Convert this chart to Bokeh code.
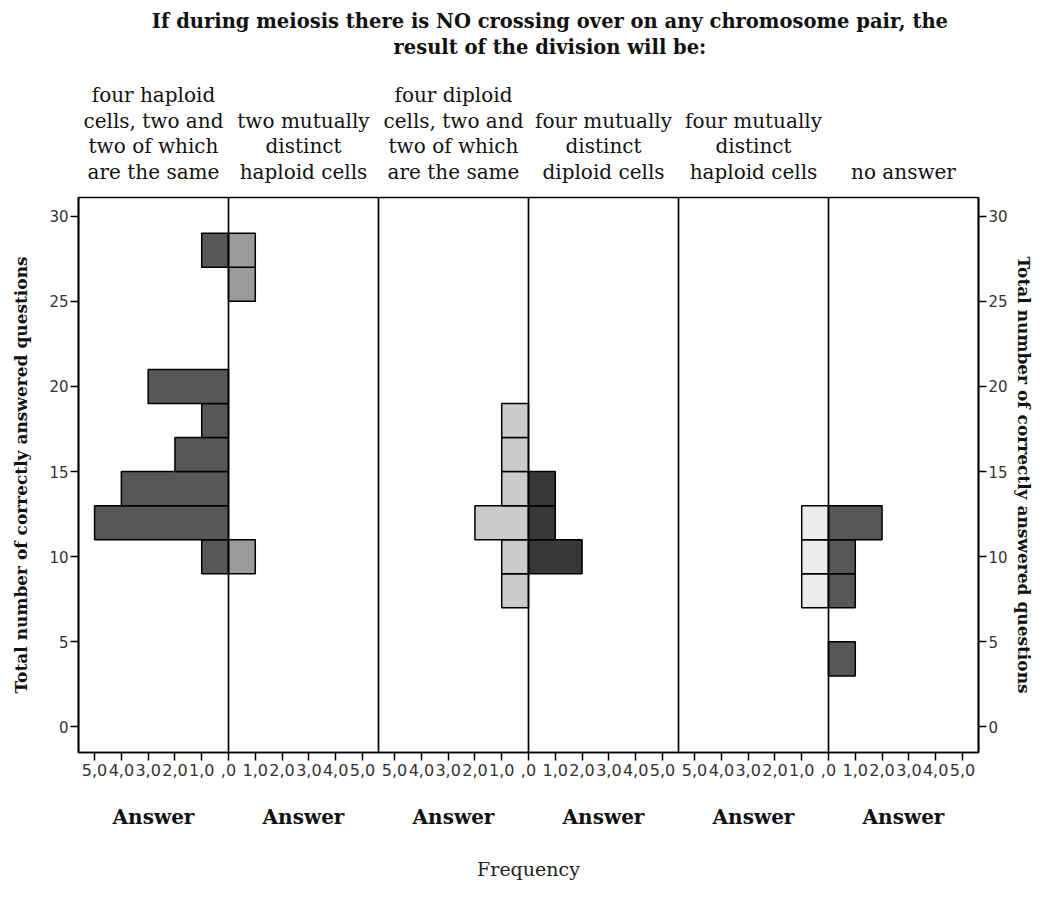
from bokeh.plotting import figure
from bokeh.models import Range1d, LinearAxis, FixedTicker, Span
from bokeh.embed import file_html
from bokeh.resources import INLINE

# ---------------- data ----------------
title_text = ("If during meiosis there is NO crossing over on any chromosome pair, the\n"
              "result of the division will be:")
categories = [
    "four haploid\ncells, two and\ntwo of which\nare the same",
    "two mutually\ndistinct\nhaploid cells",
    "four diploid\ncells, two and\ntwo of which\nare the same",
    "four mutually\ndistinct\ndiploid cells",
    "four mutually\ndistinct\nhaploid cells",
    "no answer",
]
bin_centers = [4, 6, 8, 10, 12, 14, 16, 18, 20, 22, 24, 26, 28]
bin_width = 2
counts_four_haploid_same = [0, 0, 0, 1, 5, 4, 2, 1, 3, 0, 0, 0, 1]
counts_two_distinct_haploid = [0, 0, 0, 1, 0, 0, 0, 0, 0, 0, 0, 1, 1]
counts_four_diploid_same = [0, 0, 1, 1, 2, 1, 1, 1, 0, 0, 0, 0, 0]
counts_four_distinct_diploid = [0, 0, 0, 2, 1, 1, 0, 0, 0, 0, 0, 0, 0]
counts_four_distinct_haploid = [0, 0, 1, 1, 1, 0, 0, 0, 0, 0, 0, 0, 0]
counts_no_answer = [1, 0, 1, 1, 2, 0, 0, 0, 0, 0, 0, 0, 0]
series = [counts_four_haploid_same, counts_two_distinct_haploid,
          counts_four_diploid_same, counts_four_distinct_diploid,
          counts_four_distinct_haploid, counts_no_answer]
colors = ["#575757", "#9b9b9b", "#cbcbcb", "#373737", "#ececec", "#575757"]
freq_ticks = [0, 1, 2, 3, 4, 5]
freq_tick_labels = [",0", "1,0", "2,0", "3,0", "4,0", "5,0"]
y_ticks = [0, 5, 10, 15, 20, 25, 30]
y_label = "Total number of correctly answered questions"
x_group_label = "Answer"
x_label = "Frequency"

# ---------------- layout constants ----------------
U = 10           # data units per frequency unit
HALF = 56        # width of each half panel (5.6 frequency units)
TITLE_X = 176    # horizontal anchor of the title (data units)

p = figure(width=1036, height=883, output_backend="svg", toolbar_location=None,
           x_range=Range1d(0, 6 * HALF), y_range=Range1d(-1.5, 31.1),
           min_border_left=78, min_border_right=51, min_border_top=197,
           min_border_bottom=131, title=None)
p.grid.visible = False
p.outline_line_color = "black"
p.outline_line_width = 1.7
p.background_fill_color = "white"
p.border_fill_color = "white"

# bars
for k, cnts in enumerate(series):
    zero = (k + 1) * HALF if k % 2 == 0 else k * HALF
    sign = -1 if k % 2 == 0 else 1
    lefts, rights, tops, bottoms = [], [], [], []
    for c, n in zip(bin_centers, cnts):
        if n <= 0:
            continue
        end = zero + sign * n * U
        lefts.append(min(zero, end))
        rights.append(max(zero, end))
        bottoms.append(c - bin_width / 2)
        tops.append(c + bin_width / 2)
    p.quad(left=lefts, right=rights, top=tops, bottom=bottoms,
           fill_color=colors[k], line_color="black", line_width=1.5)

# vertical lines: panel centres and separators
for j in range(1, 6):
    p.add_layout(Span(location=j * HALF, dimension="height",
                      line_color="black", line_width=1.7))

# x axis ticks (mirrored frequency scales)
ticks, overrides = [], {}
for pnl in range(3):
    c = (2 * pnl + 1) * HALF
    for v, lab in zip(freq_ticks, freq_tick_labels):
        for s in ((-1, 1) if v else (1,)):
            pos = c + s * v * U
            ticks.append(pos)
            overrides[pos] = lab
ax = p.xaxis[0]
ax.ticker = FixedTicker(ticks=sorted(ticks))
ax.major_label_overrides = overrides
ax.minor_tick_line_color = None
ax.major_tick_out = 8
ax.major_tick_in = 0
ax.major_tick_line_width = 1.5
ax.axis_line_width = 1.7
ax.major_label_standoff = 3
ax.major_label_text_font = "DejaVu Sans"
ax.major_label_text_font_size = "16px"
ax.major_label_text_color = "#333333"

half_centres = [k * HALF + HALF // 2 for k in range(6)]

def text_axis(labels, positions):
    a = LinearAxis(ticker=FixedTicker(ticks=positions),
                   major_label_overrides=dict(zip(positions, labels)))
    a.axis_line_color = None
    a.major_tick_line_color = None
    a.minor_tick_line_color = None
    return a

# "Answer" row + "Frequency" title below
ax2 = text_axis([x_group_label] * 6, half_centres)
ax2.major_label_standoff = 20
ax2.major_label_text_font = "DejaVu Serif"
ax2.major_label_text_font_style = "bold"
ax2.major_label_text_font_size = "20px"
ax2.major_label_text_color = "#111111"
ax2.axis_label = x_label
ax2.axis_label_standoff = 26
ax2.axis_label_text_font = "DejaVu Serif"
ax2.axis_label_text_font_style = "normal"
ax2.axis_label_text_font_size = "19px"
ax2.axis_label_text_color = "#222222"
p.add_layout(ax2, "below")

# category headers above
ax3 = text_axis(categories, half_centres)
ax3.major_label_standoff = 8
ax3.major_label_text_font = "DejaVu Serif"
ax3.major_label_text_font_size = "20px"
ax3.major_label_text_line_height = 1.06
ax3.major_label_text_color = "#111111"
p.add_layout(ax3, "above")

# main title (two centred lines) above the headers
ax4 = text_axis([title_text], [TITLE_X])
ax4.major_label_standoff = 16
ax4.major_label_text_font = "DejaVu Serif"
ax4.major_label_text_font_style = "bold"
ax4.major_label_text_font_size = "19.5px"
ax4.major_label_text_line_height = 1.1
ax4.major_label_text_color = "#111111"
p.add_layout(ax4, "above")

# y axes
yl = p.yaxis[0]
yr = LinearAxis()
p.add_layout(yr, "right")
for a in (yl, yr):
    a.ticker = FixedTicker(ticks=y_ticks)
    a.minor_tick_line_color = None
    a.major_tick_out = 8
    a.major_tick_in = 0
    a.major_tick_line_width = 1.5
    a.axis_line_width = 1.7
    a.major_label_standoff = 2
    a.major_label_text_font = "DejaVu Sans"
    a.major_label_text_font_size = "15px"
    a.major_label_text_color = "#333333"
    a.axis_label = y_label
    a.axis_label_text_font = "DejaVu Serif"
    a.axis_label_text_font_style = "bold"
    a.axis_label_text_font_size = "17px"
    a.axis_label_text_color = "#111111"
yl.axis_label_standoff = 15
yr.axis_label_standoff = 3

open("out.html", "w").write(file_html(p, INLINE))
